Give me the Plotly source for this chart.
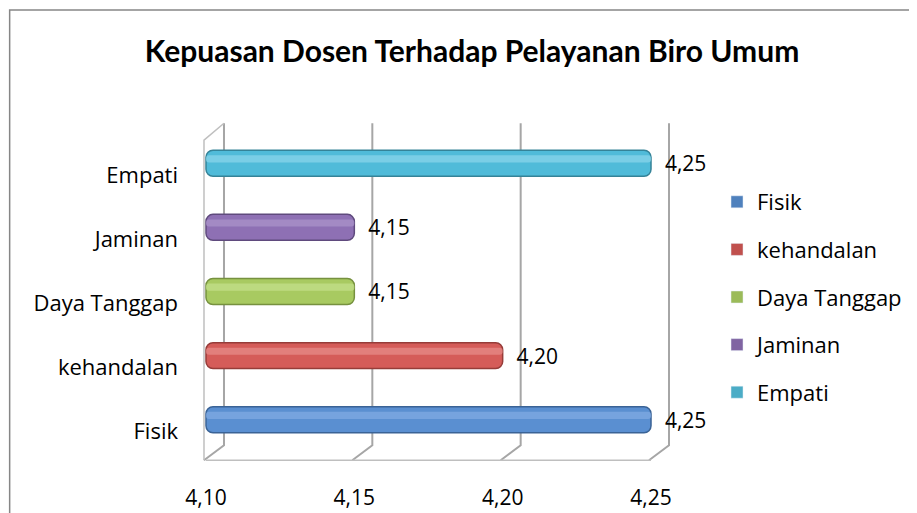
import plotly.graph_objects as go

categories = ["Fisik", "kehandalan", "Daya Tanggap", "Jaminan", "Empati"]
values = [4.25, 4.20, 4.15, 4.15, 4.25]
colors = ["#4F81BD", "#C0504D", "#9BBB59", "#8064A2", "#4BACC6"]
bar_fill = ["#5A8FD1", "#D55C59", "#A8CA61", "#8E70B4", "#50BBD9"]
highlight = ["#80AAE2", "#E68B88", "#C3DF8B", "#A993CA", "#88D4E9"]
edge = ["#3A6396", "#963C39", "#76913F", "#5F4A7D", "#358398"]
x_ticks = [4.10, 4.15, 4.20, 4.25]
BASE = 4.10

FONT = "Open Sans"
TITLE_FONT = "Lato"
lengths = [v - BASE for v in values]

fig = go.Figure()

for i, cat in enumerate(categories):
    fig.add_trace(go.Bar(
        y=[cat], x=[lengths[i]], base=BASE, customdata=[values[i]],
        orientation="h", name=cat, legendgroup=cat,
        width=0.405, offset=-0.0155,
        marker=dict(color=bar_fill[i], line=dict(color=edge[i], width=1.5),
                    cornerradius=7),
        texttemplate="\u00a0\u00a0%{customdata:.2f}", textposition="outside",
        constraintext="none",
        textfont=dict(size=21, color="black", family=FONT),
        cliponaxis=False, showlegend=False, hoverinfo="skip",
    ))
    fig.add_trace(go.Bar(
        y=[cat], x=[lengths[i]], base=BASE, orientation="h", name=cat,
        legendgroup=cat, width=0.11, offset=0.2,
        marker=dict(color=highlight[i], line=dict(width=0), cornerradius=3,
                    opacity=0.75),
        showlegend=False, hoverinfo="skip",
    ))
    # legend entry in the standard colour
    fig.add_trace(go.Bar(
        y=[None], x=[None], orientation="h", name=cat, legendgroup=cat,
        marker=dict(color=colors[i]), showlegend=True,
    ))

shapes = []
# back-wall gridlines with perspective floor diagonals
for v in x_ticks:
    shapes.append(dict(
        type="path", xref="x", yref="y", xsizemode="pixel", xanchor=v,
        path="M 18 4.81 L 18 -0.21 L -2 -0.444",
        line=dict(color="#A6A6A6", width=2), layer="below"))
# left wall
shapes.append(dict(
    type="path", xref="x", yref="y", xsizemode="pixel", xanchor=x_ticks[0],
    path="M -2 -0.444 L -2 4.546 L 18 4.81",
    line=dict(color="#BFBFBF", width=1.5), layer="below"))
# front floor edge
shapes.append(dict(type="line", xref="x", yref="y", x0=x_ticks[0], x1=x_ticks[-1],
                   y0=-0.444, y1=-0.444, line=dict(color="#BFBFBF", width=1.5),
                   layer="below"))
# chart border
shapes.append(dict(type="rect", xref="paper", yref="paper",
                   x0=-0.405, x1=1.7, y0=-0.3, y1=1.3246,
                   line=dict(color="#868686", width=1.5)))

fig.update_layout(
    width=909, height=505,
    margin=dict(l=192, r=247, t=114, b=46, autoexpand=False),
    paper_bgcolor="white", plot_bgcolor="rgba(0,0,0,0)",
    separators=",.",
    barmode="overlay",
    font=dict(family=FONT, size=21, color="black"),
    title=dict(text="<b>Kepuasan Dosen Terhadap Pelayanan Biro Umum</b>",
               xref="container", x=0.5105, xanchor="center",
               yref="container", y=0.9129, yanchor="middle",
               font=dict(family=TITLE_FONT, size=30, color="black")),
    xaxis=dict(range=[4.09798, 4.25640], tickvals=x_ticks, tickformat=".2f",
               showgrid=False, zeroline=False, showline=False, ticks="",
               ticklabelstandoff=16, tickfont=dict(size=21, family=FONT),
               automargin=False, fixedrange=True),
    yaxis=dict(type="category", categoryorder="array", categoryarray=categories,
               range=[-0.55, 4.83], showgrid=False, zeroline=False,
               showline=False, ticks="", ticklabelstandoff=21,
               automargin=False, tickfont=dict(size=22, family=FONT)),
    legend=dict(xref="container", x=0.780, xanchor="left",
                yref="container", y=0.4277, yanchor="middle",
                font=dict(size=22, family=FONT), tracegroupgap=16,
                traceorder="grouped", bgcolor="rgba(0,0,0,0)"),
    shapes=shapes,
    showlegend=True,
)

fig.write_html("out.html")
